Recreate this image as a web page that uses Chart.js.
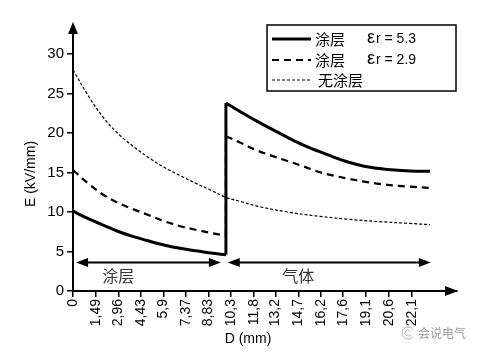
<!DOCTYPE html>
<html>
<head>
<meta charset="utf-8">
<script src="https://cdn.jsdelivr.net/npm/chart.js@4/dist/chart.umd.min.js"></script>
<style>
html,body{margin:0;padding:0;background:#fff;}
#wrap{width:477px;height:353px;}
</style>
</head>
<body>
<div id="wrap"><canvas id="c" width="477" height="353"></canvas></div>
<script>
// ---- data ----
const coatD   = [0, 1, 2, 3, 4, 5, 6, 7, 8, 9, 9.98];
const gasD    = [9.98, 11, 12, 13, 14, 15, 16, 17, 18, 19, 20, 21, 22, 23.3];
const solidCoat  = [10.1, 9.15, 8.3, 7.5, 6.85, 6.3, 5.8, 5.4, 5.1, 4.8, 4.6];
const solidGas   = [23.8, 22.6, 21.5, 20.45, 19.45, 18.5, 17.7, 16.95, 16.3, 15.8, 15.5, 15.3, 15.2, 15.15];
const dashCoat   = [15.3, 13.6, 12.15, 11.1, 10.3, 9.55, 8.8, 8.2, 7.75, 7.35, 7.0];
const dashGas    = [19.6, 18.7, 17.8, 17.1, 16.45, 15.8, 15.1, 14.6, 14.2, 13.85, 13.55, 13.35, 13.2, 13.05];
const noCoatD    = [0, 1, 2, 3, 4, 5, 6, 7, 8, 9, 9.98, 11, 12, 14, 16, 18, 20, 22, 23.3];
const noCoatE    = [28.0, 24.7, 21.9, 19.8, 18.2, 16.8, 15.6, 14.6, 13.65, 12.75, 11.85, 11.3, 10.75, 10.0, 9.47, 9.07, 8.78, 8.55, 8.4];

const xTickVals   = [0, 1.49, 2.96, 4.43, 5.9, 7.37, 8.83, 10.3, 11.8, 13.2, 14.7, 16.2, 17.6, 19.1, 20.6, 22.1];
const xTickLabels = ['0','1,49','2,96','4,43','5,9','7,37','8,83','10,3','11,8','13,2','14,7','16,2','17,6','19,1','20,6','22,1'];
const yTickVals   = [0, 5, 10, 15, 20, 25, 30];

const legendNames = ['涂层', '涂层', '无涂层'];
const legendEps   = ['r = 5.3', 'r = 2.9', ''];
const regionNames = ['涂层', '气体'];
const regionFrom  = [0.2, 10.1];
const regionTo    = [9.65, 23.35];
const regionArrowE = 3.6;
const regionLabelX = [2.95, 14.7];
const regionLabelE = 1.95;
const xTitle = 'D (mm)';
const yTitle = 'E (kV/mm)';
const watermark = '会说电气';

const pts = (xs, ys) => xs.map((x, i) => ({x: x, y: ys[i]}));
const jump = (c, g) => [{x: coatD[coatD.length - 1], y: c[c.length - 1]}, {x: gasD[0], y: g[0]}];

const LATIN = "'Liberation Sans', Arial, sans-serif";
const CJK = "'Noto Sans CJK SC', 'Liberation Sans', sans-serif";

const styles = [
  {w: 3, dash: []},
  {w: 2.2, dash: [7, 5]},
  {w: 1.2, dash: [3, 2]}
];

function ds(data, s) {
  return {data: data, borderColor: '#000', borderWidth: s.w, borderDash: s.dash, pointRadius: 0, tension: 0.35, fill: false, borderCapStyle: 'butt'};
}

function line(ctx, x1, y1, x2, y2, s) {
  ctx.save();
  ctx.strokeStyle = '#000';
  ctx.lineWidth = s.w;
  ctx.setLineDash(s.dash);
  ctx.beginPath(); ctx.moveTo(x1, y1); ctx.lineTo(x2, y2); ctx.stroke();
  ctx.restore();
}
function head(ctx, tx, ty, dir, len, hw) {
  ctx.beginPath();
  if (dir === 'up') { ctx.moveTo(tx, ty); ctx.lineTo(tx - hw, ty + len); ctx.lineTo(tx + hw, ty + len); }
  if (dir === 'right') { ctx.moveTo(tx, ty); ctx.lineTo(tx - len, ty - hw); ctx.lineTo(tx - len, ty + hw); }
  if (dir === 'left') { ctx.moveTo(tx, ty); ctx.lineTo(tx + len, ty - hw); ctx.lineTo(tx + len, ty + hw); }
  ctx.closePath(); ctx.fill();
}

const deco = {
  id: 'deco',
  afterDraw(chart) {
    const ctx = chart.ctx, ca = chart.chartArea;
    const xs = chart.scales.x, ys = chart.scales.y;
    ctx.save();
    ctx.fillStyle = '#000';
    head(ctx, ca.left, ca.top - 4, 'up', 12, 5);
    head(ctx, ca.right + 1, ca.bottom, 'right', 13, 5);

    ctx.strokeStyle = '#000';
    const ay = ys.getPixelForValue(regionArrowE);
    for (let i = 0; i < regionNames.length; i++) {
      const a = xs.getPixelForValue(regionFrom[i]), b = xs.getPixelForValue(regionTo[i]);
      ctx.lineWidth = 2; ctx.setLineDash([]);
      ctx.beginPath(); ctx.moveTo(a + 6, ay); ctx.lineTo(b - 6, ay); ctx.stroke();
      head(ctx, a, ay, 'left', 12, 4.5);
      head(ctx, b, ay, 'right', 12, 4.5);
      ctx.fillStyle = '#333';
      ctx.font = '16px ' + CJK;
      ctx.textAlign = 'center'; ctx.textBaseline = 'middle';
      ctx.fillText(regionNames[i], xs.getPixelForValue(regionLabelX[i]), ys.getPixelForValue(regionLabelE));
      ctx.fillStyle = '#000';
    }

    const lx = 267, ly = 25, lw = 189, lh = 66;
    ctx.lineWidth = 1.5; ctx.setLineDash([]);
    ctx.fillStyle = '#fff';
    ctx.fillRect(lx, ly, lw, lh);
    ctx.strokeRect(lx, ly, lw, lh);
    const rowsY = [39, 60, 80];
    for (let i = 0; i < 3; i++) {
      const y = rowsY[i];
      line(ctx, 272, y, 311, y, styles[i]);
      ctx.fillStyle = '#000';
      ctx.textBaseline = 'middle'; ctx.textAlign = 'left';
      ctx.font = '15px ' + CJK;
      ctx.fillText(legendNames[i], i === 2 ? 318 : 315, y);
      if (legendEps[i]) {
        ctx.font = '18px ' + LATIN;
        ctx.fillText('ε', 367, y - 1);
        ctx.font = '14px ' + LATIN;
        ctx.fillText(legendEps[i], 376, y);
      }
    }

    ctx.fillStyle = '#000';
    ctx.font = '14px ' + LATIN;
    ctx.textAlign = 'center'; ctx.textBaseline = 'middle';
    ctx.fillText(xTitle, 248, 339);
    ctx.save();
    ctx.translate(31, 174);
    ctx.rotate(-Math.PI / 2);
    ctx.fillText(yTitle, 0, 0);
    ctx.restore();

    ctx.fillStyle = '#9a9a9a';
    ctx.strokeStyle = '#b0b0b0';
    ctx.lineWidth = 1;
    ctx.beginPath(); ctx.arc(408, 333, 6, 0.6, 2 * Math.PI - 0.6, false); ctx.stroke();
    ctx.beginPath(); ctx.arc(408, 333, 3, 0.6, 2 * Math.PI - 0.6, false); ctx.stroke();
    ctx.font = '12px ' + CJK;
    ctx.textAlign = 'left';
    ctx.fillText(watermark, 418, 333);
    ctx.restore();
  }
};

new Chart(document.getElementById('c'), {
  type: 'line',
  data: {
    datasets: [
      ds(pts(coatD, solidCoat), styles[0]),
      ds(jump(solidCoat, solidGas), styles[0]),
      ds(pts(gasD, solidGas), styles[0]),
      ds(pts(coatD, dashCoat), styles[1]),
      ds(jump(dashCoat, dashGas), styles[1]),
      ds(pts(gasD, dashGas), styles[1]),
      ds(pts(noCoatD, noCoatE), styles[2])
    ]
  },
  options: {
    responsive: false,
    animation: false,
    events: [],
    layout: {padding: {top: 26, right: 20, left: 0, bottom: 0}},
    plugins: {legend: {display: false}, tooltip: {enabled: false}},
    scales: {
      x: {
        type: 'linear', min: 0, max: 25.06,
        afterBuildTicks: s => { s.ticks = xTickVals.map(v => ({value: v})); },
        afterFit: s => { s.height = 62; },
        ticks: {
          autoSkip: false, maxRotation: 90, minRotation: 90, padding: 2,
          color: '#000', font: {size: 14, family: LATIN},
          callback: (v, i) => xTickLabels[i]
        },
        grid: {display: true, drawOnChartArea: false, drawTicks: true, tickLength: 6, color: '#000', lineWidth: 1.5},
        border: {display: true, color: '#000', width: 2}
      },
      y: {
        type: 'linear', min: 0, max: 33.54,
        afterBuildTicks: s => { s.ticks = yTickVals.map(v => ({value: v})); },
        afterFit: s => { s.width = 73; },
        ticks: {color: '#000', padding: 3, font: {size: 15, family: LATIN}},
        grid: {display: true, drawOnChartArea: false, drawTicks: true, tickLength: 6, color: '#000', lineWidth: 1.5},
        border: {display: true, color: '#000', width: 2}
      }
    }
  },
  plugins: [deco]
});
</script>
</body>
</html>
